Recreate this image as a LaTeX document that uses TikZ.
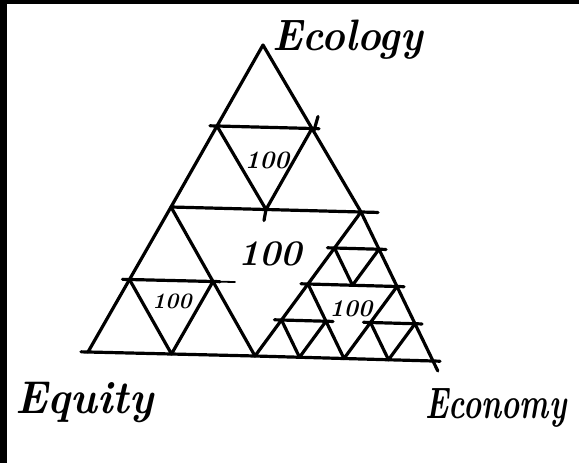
\documentclass[tikz,border=0pt]{standalone}
\usepackage{graphicx}
\usetikzlibrary{calc}

\begin{document}
\begin{tikzpicture}[x=1pt, y=-1pt, line width=3.2pt, line cap=round, line join=round,
    pen/.style={shorten <=-7pt, shorten >=-7pt},
    hand/.style={font=\fontsize{#1}{#1}\selectfont\bfseries\itshape, inner sep=0pt}]
  \useasboundingbox (0,0) rectangle (579,463);
  \fill (0,0) rectangle (579,4);
  \fill (0,0) rectangle (7,463);
  % corners and halfway points of the big triangle
  \coordinate (top) at (263,45);
  \coordinate (eq) at (88,352);
  \coordinate (ec) at (433,361);
  \coordinate (hL) at (171,207);
  \coordinate (hR) at (361,212);
  \coordinate (hB) at (255,356);
  % halfway points of the right one
  \coordinate (rL) at ($(hR)!0.5!(hB)$);
  \coordinate (rR) at ($(hR)!0.5!(ec)$);
  \coordinate (rB) at ($(hB)!0.5!(ec)$);
  \draw (top) -- (hL) -- (eq);
  \draw[shorten >=-11pt] (top) -- (hR) -- (ec);
  \draw[pen] (eq) -- (hB) -- (ec);
  \draw[shorten >=-17pt] (hL) -- (hR);
  \draw (hL) -- (hB) -- (hR);
  % the smaller triangles, each cut into four
  \foreach \p/\q/\r in {top/hL/hR, hL/eq/hB, hR/hB/ec, hR/rL/rR, rL/hB/rB, rR/rB/ec}{
    \path ($(\p)!0.5!(\q)$) coordinate (a) ($(\p)!0.5!(\r)$) coordinate (b)
          ($(\q)!0.5!(\r)$) coordinate (c);
    \draw[pen] (a) -- (b);
    \draw (a) -- (c) -- (b);
  }
  % little pen marks
  \coordinate (uR) at ($(top)!0.5!(hR)$);
  \coordinate (uB) at ($(hL)!0.5!(hR)$);
  \coordinate (lR) at ($(hL)!0.5!(hB)$);
  \draw (uR) ++(2,2) -- ++(4,-14);
  \draw (uB) -- ++(-2,11);
  \draw[line width=1.8pt, shorten >=-22pt] ($(hL)!0.5!(eq)$) -- (lR);
  % labels
  \node[hand=25] (l1) at (267,160) {100};
  \node[hand=36] (l2) at (270,254) {100};
  \node[hand=22] (l3) at (172,301) {100};
  \node[hand=24] (l4) at (351,309) {100};
  \node[hand=44, anchor=base west] (ecol) at (271,50) {\scalebox{0.91}[1]{Ecology}};
  \node[hand=46, anchor=base west] (equi) at (14,413) {\scalebox{0.93}[1]{Equity}};
  \node[hand=44, anchor=base west] (econ) at (424,418) {\scalebox{0.7}[1]{Economy}};
\end{tikzpicture}
\end{document}
